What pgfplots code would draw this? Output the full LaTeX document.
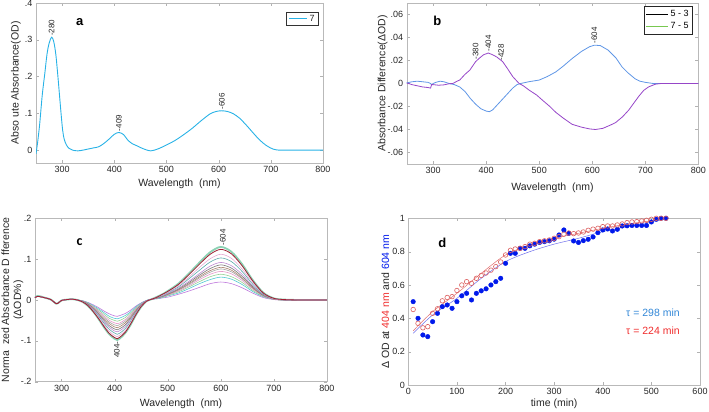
\documentclass[border=0pt]{standalone}
\usepackage{pgfplots}
\pgfplotsset{compat=1.18}
\usepackage{pgfplotstable}
\usepackage{fontspec}
\setmainfont{Liberation Sans}
\newfontfamily\carlito{Carlito}

\definecolor{aCyan}{RGB}{40,178,230}
\definecolor{cPur}{RGB}{150,70,200}
\definecolor{cBlu}{RGB}{95,150,230}
\definecolor{cLegG}{RGB}{120,200,80}
\definecolor{dBlue}{RGB}{0,25,235}
\definecolor{dRed}{RGB}{220,95,95}
\definecolor{fBlue}{RGB}{110,110,235}
\definecolor{fRed}{RGB}{225,110,110}
\definecolor{tBlue}{RGB}{50,135,215}
\definecolor{tRed}{RGB}{240,45,45}
\definecolor{k1}{RGB}{190,120,220}
\definecolor{k2}{RGB}{80,200,210}
\definecolor{k3}{RGB}{150,210,150}
\definecolor{k4}{RGB}{230,150,200}
\definecolor{k5}{RGB}{165,165,165}
\definecolor{k6}{RGB}{170,130,110}
\definecolor{k7}{RGB}{120,120,120}
\definecolor{k8}{RGB}{190,140,210}
\definecolor{k9}{RGB}{90,170,170}
\definecolor{k10}{RGB}{230,170,210}
\definecolor{k11}{RGB}{160,30,50}
\definecolor{k12}{RGB}{140,210,180}

\pgfplotstableread{
lam c1 c2 c3 c4 c5 c6 c7 c8 c9 c10 c11 c12
250 0.006 0.006 0.006 0.006 0.006 0.006 0.006 0.006 0.006 0.006 0.006 0.007
255 0.009 0.009 0.009 0.009 0.009 0.009 0.009 0.009 0.009 0.009 0.009 0.010
260 0.008 0.008 0.008 0.008 0.008 0.008 0.008 0.008 0.008 0.008 0.008 0.009
270 0.005 0.005 0.005 0.005 0.005 0.005 0.005 0.005 0.005 0.005 0.005 0.005
280 0.001 0.001 0.001 0.001 0.001 0.001 0.001 0.001 0.001 0.001 0.001 0.001
290 -0.009 -0.009 -0.009 -0.009 -0.009 -0.009 -0.009 -0.009 -0.009 -0.009 -0.009 -0.009
295 -0.006 -0.006 -0.006 -0.006 -0.006 -0.006 -0.006 -0.006 -0.006 -0.006 -0.006 -0.006
300 -0.001 -0.001 -0.001 -0.001 -0.001 -0.001 -0.001 -0.001 -0.001 -0.001 -0.001 -0.001
310 0.001 0.001 0.001 0.001 0.001 0.001 0.001 0.001 0.001 0.001 0.001 0.001
320 0.002 0.002 0.002 0.002 0.002 0.002 0.002 0.002 0.002 0.002 0.002 0.002
330 0.000 0.000 0.000 0.000 0.000 0.000 0.000 0.000 0.000 0.000 0.000 0.000
340 -0.002 -0.002 -0.003 -0.003 -0.003 -0.003 -0.004 -0.004 -0.004 -0.005 -0.005 -0.005
350 -0.006 -0.007 -0.008 -0.009 -0.009 -0.010 -0.011 -0.012 -0.013 -0.014 -0.014 -0.015
360 -0.012 -0.014 -0.016 -0.017 -0.019 -0.020 -0.022 -0.023 -0.025 -0.027 -0.029 -0.029
370 -0.019 -0.022 -0.025 -0.028 -0.030 -0.033 -0.035 -0.037 -0.040 -0.043 -0.046 -0.047
380 -0.027 -0.031 -0.035 -0.039 -0.043 -0.046 -0.050 -0.053 -0.057 -0.061 -0.065 -0.067
390 -0.034 -0.040 -0.045 -0.050 -0.054 -0.058 -0.063 -0.067 -0.072 -0.077 -0.082 -0.084
400 -0.039 -0.045 -0.050 -0.056 -0.061 -0.066 -0.071 -0.076 -0.081 -0.087 -0.092 -0.095
405 -0.040 -0.046 -0.052 -0.058 -0.063 -0.068 -0.073 -0.078 -0.084 -0.090 -0.095 -0.098
410 -0.038 -0.044 -0.050 -0.056 -0.060 -0.065 -0.070 -0.075 -0.081 -0.086 -0.091 -0.094
420 -0.033 -0.038 -0.043 -0.048 -0.052 -0.056 -0.061 -0.065 -0.070 -0.075 -0.079 -0.081
430 -0.025 -0.029 -0.032 -0.036 -0.039 -0.042 -0.045 -0.048 -0.052 -0.056 -0.059 -0.061
440 -0.015 -0.017 -0.020 -0.022 -0.024 -0.026 -0.028 -0.030 -0.032 -0.034 -0.036 -0.037
450 -0.007 -0.008 -0.009 -0.010 -0.011 -0.012 -0.012 -0.013 -0.014 -0.015 -0.016 -0.017
460 -0.001 -0.001 -0.002 -0.002 -0.002 -0.002 -0.002 -0.002 -0.003 -0.003 -0.003 -0.003
470 0.002 0.002 0.002 0.002 0.002 0.002 0.002 0.002 0.002 0.002 0.002 0.002
480 0.003 0.003 0.004 0.004 0.005 0.005 0.005 0.006 0.006 0.007 0.007 0.008
490 0.005 0.006 0.007 0.008 0.008 0.009 0.009 0.010 0.011 0.012 0.014 0.014
500 0.007 0.010 0.011 0.012 0.013 0.014 0.015 0.016 0.018 0.019 0.021 0.022
520 0.014 0.017 0.020 0.022 0.024 0.025 0.027 0.029 0.032 0.035 0.038 0.040
540 0.022 0.028 0.032 0.035 0.038 0.040 0.043 0.046 0.052 0.056 0.062 0.065
560 0.031 0.040 0.045 0.050 0.054 0.057 0.061 0.065 0.073 0.080 0.088 0.092
580 0.040 0.050 0.057 0.063 0.068 0.072 0.077 0.083 0.093 0.101 0.112 0.117
600 0.044 0.056 0.063 0.070 0.076 0.080 0.086 0.092 0.103 0.112 0.124 0.130
620 0.040 0.051 0.057 0.064 0.069 0.073 0.078 0.084 0.094 0.102 0.113 0.118
640 0.030 0.038 0.043 0.048 0.052 0.054 0.058 0.063 0.070 0.076 0.084 0.088
660 0.017 0.021 0.024 0.027 0.029 0.030 0.033 0.035 0.039 0.043 0.047 0.049
680 0.006 0.008 0.009 0.010 0.011 0.011 0.012 0.013 0.014 0.016 0.017 0.018
700 0.001 0.002 0.002 0.002 0.002 0.002 0.003 0.003 0.003 0.003 0.004 0.004
720 0.000 0.000 0.000 0.000 0.000 0.000 0.000 0.000 0.001 0.001 0.001 0.001
750 0.000 0.000 0.000 0.000 0.000 0.000 0.000 0.000 0.000 0.000 0.000 0.000
800 0.000 0.000 0.000 0.000 0.000 0.000 0.000 0.000 0.000 0.000 0.000 0.000
}\tableC

\pgfplotstableread{
t y
10 0.50
20 0.40
30 0.30
40 0.29
50 0.38
60 0.43
70 0.47
80 0.48
90 0.46
100 0.50
110 0.535
120 0.55
130 0.51
140 0.55
150 0.565
160 0.577
170 0.60
180 0.62
190 0.64
200 0.73
210 0.79
220 0.79
230 0.82
240 0.82
250 0.835
260 0.845
270 0.855
280 0.86
290 0.865
300 0.875
310 0.90
320 0.93
330 0.91
340 0.864
350 0.855
360 0.866
370 0.874
380 0.888
390 0.914
400 0.93
410 0.936
420 0.924
430 0.934
440 0.954
450 0.955
460 0.957
470 0.957
480 0.957
490 0.957
500 0.978
510 0.994
520 1.0
530 1.0
}\tableBlue

\pgfplotstableread{
t y
10 0.453
20 0.37
30 0.343
40 0.35
50 0.43
60 0.457
70 0.505
80 0.525
90 0.53
100 0.567
110 0.60
120 0.62
130 0.61
140 0.64
150 0.657
160 0.672
170 0.689
180 0.71
190 0.738
200 0.78
210 0.808
220 0.816
230 0.82
240 0.83
250 0.845
260 0.85
270 0.86
280 0.865
290 0.87
300 0.88
310 0.89
320 0.905
330 0.912
340 0.908
350 0.912
360 0.918
370 0.928
380 0.935
390 0.94
400 0.95
410 0.954
420 0.954
430 0.96
440 0.966
450 0.974
460 0.978
470 0.98
480 0.984
490 0.988
500 0.994
510 1.0
520 1.0
530 1.0
}\tableRed

\tikzset{
  ann/.style={font=\fontsize{8}{9}\selectfont, rotate=90, inner sep=0.5pt, text=black!85},
  plab/.style={font=\fontsize{13}{14}\selectfont\bfseries},
}
\pgfplotsset{
  myax/.style={
    scale only axis,
    axis line style={gray!55},
    tick style={gray!60},
    tick align=inside,
    major tick length=3pt,
    ticklabel style={font=\fontsize{9}{10}\selectfont, text=black!85},
    label style={font=\fontsize{10.5}{12}\selectfont, text=black!85},
    /pgf/number format/assume math mode=true,
    xlabel style={at={(axis description cs:0.5,0)}, anchor=center},
    ylabel style={at={(axis description cs:0,0.5)}, anchor=center},
  },
}

\begin{document}
\begin{tikzpicture}
\path[use as bounding box] (0pt,0pt) rectangle (709pt,412pt);

% ---------------- panel a ----------------
\begin{axis}[myax,
  at={(36pt,249pt)}, anchor=south west,
  width=287pt, height=160pt,
  xmin=250, xmax=800, ymin=-0.035, ymax=0.4,
  xtick={300,400,500,600,700,800},
  ytick={0,0.1,0.2,0.3,0.4},
  yticklabels={0,.1,.2,.3,.4},
  xlabel={Wavelength\ \ (nm)},
  ylabel={Abso ute Absorbance(OD)},
  xlabel style={yshift=-21pt},
  ylabel style={yshift=20pt},
]
\addplot[draw=aCyan, line width=0.9pt, smooth] coordinates {
(250,-0.01) (253,0.02) (257,0.07) (262,0.15) (267,0.21) (271,0.26) (275,0.29)
(280,0.307) (284,0.295) (288,0.26) (292,0.20) (295,0.15) (298,0.10) (301,0.055)
(304,0.03) (308,0.015) (313,0.005) (320,0.0) (330,-0.002) (340,0.0) (350,0.003)
(360,0.006) (370,0.009) (380,0.018) (390,0.03) (400,0.043) (409,0.048) (418,0.042)
(426,0.027) (435,0.017) (443,0.012) (455,0.004) (470,-0.002) (485,0.004) (500,0.014)
(515,0.025) (532,0.041) (550,0.06) (564,0.077) (583,0.098) (595,0.105) (606,0.107)
(617,0.105) (628,0.099) (640,0.087) (653,0.068) (666,0.047) (679,0.027) (692,0.012)
(704,0.003) (715,0.0) (730,0.0) (760,0.0) (800,0.0)};
% legend box
\draw[black!80, fill=white, line width=0.6pt] (rel axis cs:0.871,0.863) rectangle (rel axis cs:0.983,0.939);
\draw[aCyan, line width=0.9pt] (rel axis cs:0.882,0.901) -- (rel axis cs:0.944,0.901);
\node[font=\fontsize{9}{10}\selectfont, text=black!85] at (rel axis cs:0.962,0.901) {7};
\node[ann, anchor=west] at (axis cs:280,0.309) {-280};
\node[ann, anchor=west] at (axis cs:409,0.050) {-409};
\node[ann, anchor=west] at (axis cs:606,0.109) {-606};
\node[plab] at (axis cs:334,0.348) {a};
\end{axis}

% ---------------- panel b ----------------
\begin{axis}[myax,
  at={(406.7pt,248pt)}, anchor=south west,
  width=291.6pt, height=161pt,
  xmin=250, xmax=800, ymin=-0.07, ymax=0.07,
  xtick={300,400,500,600,700,800},
  ytick={-0.06,-0.04,-0.02,0,0.02,0.04,0.06},
  yticklabels={-.06,-.04,-.02,0,.02,.04,.06},
  xlabel={Wavelength\ \ (nm)},
  ylabel={Absorbance Difference(ΔOD)},
  xlabel style={yshift=-24pt},
  ylabel style={yshift=24pt},
  legend style={at={(0.982,0.98)}, anchor=north east, draw=black!85, line width=0.8pt,
    font=\fontsize{9}{10}\selectfont, inner sep=2pt, row sep=0pt},
  legend image code/.code={\draw[#1] (0pt,0pt) -- (22pt,0pt);},
]
\addlegendimage{draw=black, line width=0.6pt}
\addlegendentry{5 - 3}
\addlegendimage{draw=cLegG, line width=0.6pt}
\addlegendentry{7 - 5}
\addplot[cBlu, line width=0.8pt, forget plot] coordinates {
(250,0.0005) (260,0.0015) (270,0.002) (280,0.0015) (290,0.001) (295,0.0) (297,-0.001)
(300,0.0) (305,0.001) (313,0.002) (320,0.0015) (330,0.0) (340,-0.001) (350,-0.003)
(360,-0.007) (370,-0.013) (380,-0.018) (390,-0.022) (400,-0.024) (406,-0.0245)
(412,-0.023) (420,-0.019) (430,-0.014) (440,-0.009) (450,-0.004) (458,-0.001)
(465,0.0) (480,0.0015) (500,0.003) (515,0.006) (531,0.010) (545,0.015) (562,0.0217)
(580,0.028) (595,0.032) (604,0.0333) (615,0.033) (630,0.029) (645,0.022) (656,0.0145)
(668,0.009) (681,0.004) (690,0.002) (700,0.001) (715,0.0) (800,0.0)};
\addplot[cPur, line width=0.8pt, forget plot] coordinates {
(250,0.0005) (260,-0.001) (270,-0.002) (280,-0.003) (290,-0.0035) (295,-0.004)
(297,-0.001) (300,-0.001) (310,-0.0015) (320,-0.0012) (330,-0.0002) (337,0.0)
(345,0.002) (350,0.003) (360,0.008) (369,0.0116) (380,0.019) (387,0.022) (395,0.025)
(404,0.0265) (412,0.025) (420,0.023) (431,0.019) (440,0.013) (450,0.006) (462,0.0)
(470,-0.002) (481,-0.0058) (495,-0.010) (506,-0.0145) (520,-0.020) (531,-0.025)
(545,-0.030) (562,-0.0355) (580,-0.038) (595,-0.0395) (606,-0.040) (620,-0.039)
(635,-0.036) (644,-0.034) (657,-0.029) (669,-0.023) (680,-0.016) (688,-0.011)
(697,-0.006) (706,-0.003) (719,-0.0006) (730,0.0) (800,0.0)};
\node[ann, anchor=west] at (axis cs:380,0.0205) {-380};
\node[ann, anchor=west] at (axis cs:404,0.0275) {-404};
\node[ann, anchor=west] at (axis cs:428,0.0195) {-428};
\node[ann, anchor=west] at (axis cs:604,0.0345) {-604};
\node[plab] at (axis cs:308,0.0545) {b};
\end{axis}

% ---------------- panel c ----------------
\begin{axis}[myax,
  at={(35pt,30.3pt)}, anchor=south west,
  width=292pt, height=163.4pt,
  xmin=250, xmax=800, ymin=-0.2, ymax=0.2,
  xtick={300,400,500,600,700,800},
  ytick={-0.2,-0.1,0,0.1,0.2},
  yticklabels={-.2,-.1,0,.1,.2},
  xlabel={Wavelength\ \ (nm)},
  ylabel={Norma\ \ zed Absorbance D fference\\(ΔOD\%)},
  xlabel style={yshift=-22pt},
  ylabel style={yshift=22.5pt, align=center},
]
\addplot[k12, line width=1.8pt, smooth] table[x=lam, y=c12] {\tableC};
\addplot[k1, line width=0.6pt, smooth] table[x=lam, y=c1] {\tableC};
\addplot[k2, line width=0.6pt, smooth] table[x=lam, y=c2] {\tableC};
\addplot[k3, line width=0.6pt, smooth] table[x=lam, y=c3] {\tableC};
\addplot[k4, line width=0.6pt, smooth] table[x=lam, y=c4] {\tableC};
\addplot[k5, line width=0.6pt, smooth] table[x=lam, y=c5] {\tableC};
\addplot[k6, line width=0.6pt, smooth] table[x=lam, y=c6] {\tableC};
\addplot[k7, line width=0.6pt, smooth] table[x=lam, y=c7] {\tableC};
\addplot[k8, line width=0.6pt, smooth] table[x=lam, y=c8] {\tableC};
\addplot[k9, line width=0.6pt, smooth] table[x=lam, y=c9] {\tableC};
\addplot[k10, line width=0.6pt, smooth] table[x=lam, y=c10] {\tableC};
\addplot[k11, line width=0.8pt, smooth] table[x=lam, y=c11] {\tableC};
\node[ann, anchor=west] at (axis cs:604,0.132) {-604};
\node[ann, anchor=east] at (axis cs:404,-0.100) {404-};
\node[font=\fontsize{14}{15}\selectfont\carlito\bfseries] at (axis cs:334,0.141) {c};
\end{axis}

% ---------------- panel d ----------------
\begin{axis}[myax,
  at={(408.3pt,27pt)}, anchor=south west,
  width=291.7pt, height=166.7pt,
  xmin=0, xmax=600, ymin=0, ymax=1,
  xtick={0,100,200,300,400,500,600},
  ytick={0,0.2,0.4,0.6,0.8,1},
  yticklabels={0,0.2,0.4,0.6,0.8,1},
  xlabel={time (min)},
  ylabel={Δ OD at \textcolor{tRed}{404 nm} and \textcolor{dBlue}{604 nm}},
  xlabel style={yshift=-19pt},
  ylabel style={yshift=23pt},
]
\addplot[fBlue, line width=0.5pt, smooth] coordinates {
(10,0.31) (50,0.42) (100,0.52) (150,0.64) (200,0.74) (250,0.80) (300,0.845)
(350,0.88) (400,0.92) (450,0.95) (500,0.98) (530,0.995)};
\addplot[fRed, line width=0.5pt, smooth] coordinates {
(10,0.325) (50,0.44) (100,0.55) (150,0.67) (200,0.78) (250,0.84) (300,0.88)
(350,0.91) (400,0.94) (450,0.965) (500,0.985) (530,0.995)};
\addplot[only marks, mark=*, mark size=2.3pt, mark options={fill=dBlue, draw=dBlue}] table[x=t, y=y] {\tableBlue};
\addplot[only marks, mark=o, mark size=2.3pt, mark options={draw=dRed, line width=0.6pt}] table[x=t, y=y] {\tableRed};
\node[anchor=west, text=tBlue, font=\fontsize{10.5}{12}\selectfont] at (axis cs:441,0.434) {τ = 298 min};
\node[anchor=west, text=tRed, font=\fontsize{10.5}{12}\selectfont] at (axis cs:441,0.326) {τ = 224 min};
\node[plab] at (axis cs:70,0.853) {d};
\end{axis}
\end{tikzpicture}
\end{document}
